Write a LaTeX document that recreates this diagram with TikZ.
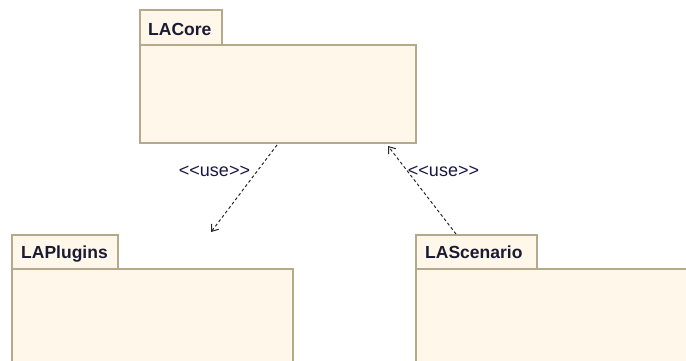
\documentclass[tikz,border=0pt]{standalone}
\usepackage{fontspec}
\setmainfont{Liberation Sans}
\usetikzlibrary{arrows.meta}
\definecolor{pkgfill}{HTML}{FFF8EA}
\definecolor{pkgline}{HTML}{B3A98B}
\definecolor{txt}{HTML}{1A1A33}
\tikzset{
  pkgbody/.style={draw=pkgline, fill=pkgfill, line width=1.6pt},
  pkgtab/.style={draw=pkgline, fill=pkgfill, line width=1.6pt},
  pkgname/.style={text=txt, font=\bfseries\fontsize{17.5}{20}\selectfont, anchor=base west, inner sep=0pt},
  uselabel/.style={text=txt!90!blue, font=\fontsize{18}{21}\selectfont, anchor=base, inner sep=0pt},
  dep/.style={draw=black!85, line width=1pt, dash pattern=on 3pt off 2.5pt,
    -{Straight Barb[length=6pt,width=9pt]}}
}
\newcommand{\usetext}{<\kern0pt<\kern0pt use\kern0pt>\kern0pt>}
\begin{document}
\begin{tikzpicture}[x=1pt,y=-1pt]
\useasboundingbox (0,0) rectangle (686,360);
% LACore
\draw[pkgtab] (140,10) rectangle (222,45);
\draw[pkgbody] (140,45) rectangle (416,143);
\node[pkgname] (core) at (148,35) {LACore};
% LAPlugins
\draw[pkgtab] (12,235) rectangle (118,269);
\draw[pkgbody] (12,269) rectangle (293,380);
\node[pkgname] (plugins) at (21,258) {LAPlugins};
% LAScenario
\draw[pkgtab] (416,235) rectangle (537,269);
\draw[pkgbody] (416,269) rectangle (700,380);
\node[pkgname] (scenario) at (425,258) {LAScenario};
% connectors
\coordinate (c1s) at (277,145);
\coordinate (c1e) at (211,232);
\coordinate (c2s) at (456,234);
\coordinate (c2e) at (388,146);
\draw[dep] (c1s) -- (c1e);
\draw[dep] (c2s) -- (c2e);
\node[uselabel] (u1) at (214.5,176) {\usetext};
\node[uselabel] (u2) at (443.5,176) {\usetext};
\end{tikzpicture}
\end{document}
